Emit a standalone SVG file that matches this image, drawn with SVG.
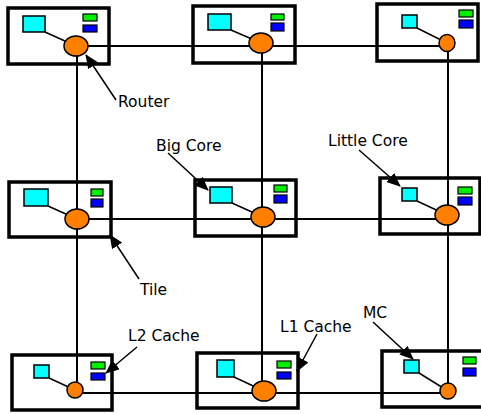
<svg xmlns="http://www.w3.org/2000/svg" width="481" height="414" viewBox="0 0 481 414">
<defs>
<style>
.box{fill:none;stroke:#000;stroke-width:3.5}
.core{fill:#00ffff;stroke:#000;stroke-width:1.5}
.l1a{fill:#00ee00;stroke:#000;stroke-width:1.2}
.l1b{fill:#0000ff;stroke:#000;stroke-width:1.2}
.rt{fill:#ff8000;stroke:#000;stroke-width:1.5}
.lk{stroke:#000;stroke-width:1.5}
.net{stroke:#000;stroke-width:2;fill:none}
.ann{stroke:#000;stroke-width:1.5;fill:none;marker-end:url(#ah)}
.lbl{font-family:"DejaVu Sans",Verdana,sans-serif;font-size:15.5px;fill:#000}
</style>
<marker id="ah" markerUnits="userSpaceOnUse" markerWidth="14" markerHeight="12" refX="13" refY="6" orient="auto">
<path d="M0,0 L14,6 L0,12 Z" fill="#000"/>
</marker>
</defs>
<rect width="481" height="414" fill="#fff"/>
<g id="connectors">
<line class="net" x1="76" y1="46" x2="448" y2="46"/>
<line class="net" x1="77" y1="219" x2="447" y2="219"/>
<line class="net" x1="75" y1="393" x2="448" y2="393"/>
<line class="net" x1="77" y1="46" x2="77" y2="390"/>
<line class="net" x1="262" y1="43" x2="262" y2="391"/>
<line class="net" x1="448" y1="43" x2="448" y2="391"/>
</g>
<g id="tile1">
<rect class="box" x="8" y="8" width="101" height="56"/>
<rect class="core" x="23" y="16" width="22" height="16"/>
<rect class="l1a" x="83" y="14" width="14" height="7"/>
<rect class="l1b" x="83" y="25" width="14" height="7"/>
<line class="lk" x1="45" y1="32" x2="76" y2="46"/>
<ellipse class="rt" cx="76" cy="46" rx="12" ry="10"/>
</g>
<g id="tile2">
<rect class="box" x="193" y="6" width="102" height="57"/>
<rect class="core" x="208" y="14" width="23" height="16"/>
<rect class="l1a" x="271" y="14" width="13" height="6"/>
<rect class="l1b" x="271" y="23" width="13" height="8"/>
<line class="lk" x1="231" y1="30" x2="261" y2="43"/>
<ellipse class="rt" cx="261" cy="43" rx="12" ry="10"/>
</g>
<g id="tile3">
<rect class="box" x="377" y="4" width="101" height="57"/>
<rect class="core" x="402" y="15" width="15" height="13"/>
<rect class="l1a" x="459" y="10" width="14" height="7"/>
<rect class="l1b" x="459" y="20" width="14" height="8"/>
<line class="lk" x1="417" y1="28" x2="447" y2="43"/>
<ellipse class="rt" cx="447" cy="43" rx="8" ry="8.5"/>
</g>
<g id="tile4">
<rect class="box" x="9" y="182" width="102" height="55"/>
<rect class="core" x="24" y="189" width="24" height="17"/>
<rect class="l1a" x="91" y="189" width="12" height="7"/>
<rect class="l1b" x="91" y="199" width="12" height="8"/>
<line class="lk" x1="48" y1="206" x2="77" y2="219"/>
<ellipse class="rt" cx="77" cy="219" rx="12" ry="10"/>
</g>
<g id="tile5">
<rect class="box" x="195" y="180" width="101" height="56"/>
<rect class="core" x="210" y="187" width="22" height="16"/>
<rect class="l1a" x="274" y="185" width="13" height="7"/>
<rect class="l1b" x="274" y="195" width="13" height="8"/>
<line class="lk" x1="232" y1="203" x2="263" y2="217"/>
<ellipse class="rt" cx="263" cy="217" rx="12" ry="10"/>
</g>
<g id="tile6">
<rect class="box" x="380" y="178" width="100" height="56"/>
<rect class="core" x="402" y="188" width="15" height="13"/>
<rect class="l1a" x="458" y="187" width="14" height="7"/>
<rect class="l1b" x="458" y="197" width="14" height="8"/>
<line class="lk" x1="417" y1="201" x2="447" y2="215"/>
<ellipse class="rt" cx="447" cy="215" rx="12" ry="10"/>
</g>
<g id="tile7">
<rect class="box" x="12" y="355" width="100" height="55"/>
<rect class="core" x="34" y="365" width="15" height="13"/>
<rect class="l1a" x="91" y="362" width="14" height="7"/>
<rect class="l1b" x="91" y="373" width="14" height="7"/>
<line class="lk" x1="49" y1="378" x2="75" y2="390"/>
<ellipse class="rt" cx="75" cy="390" rx="8" ry="8"/>
</g>
<g id="tile8">
<rect class="box" x="197" y="353" width="101" height="55"/>
<rect class="core" x="217" y="360" width="17" height="17"/>
<rect class="l1a" x="277" y="361" width="14" height="7"/>
<rect class="l1b" x="277" y="372" width="14" height="7"/>
<line class="lk" x1="234" y1="377" x2="264" y2="391"/>
<ellipse class="rt" cx="264" cy="391" rx="12" ry="10"/>
</g>
<g id="tile9">
<rect class="box" x="382" y="351" width="102" height="56"/>
<rect class="core" x="404" y="360" width="15" height="13"/>
<rect class="l1a" x="463" y="357" width="13" height="7"/>
<rect class="l1b" x="463" y="368" width="13" height="8"/>
<line class="lk" x1="419" y1="373" x2="448" y2="391"/>
<ellipse class="rt" cx="448" cy="391" rx="8" ry="8"/>
</g>
<g id="annotations">
<line class="ann" x1="116" y1="100" x2="86" y2="55"/>
<line class="ann" x1="139" y1="279" x2="110" y2="235"/>
<line class="ann" x1="168" y1="153" x2="208" y2="190"/>
<line class="ann" x1="359" y1="150" x2="400" y2="186"/>
<line class="ann" x1="137" y1="347" x2="106" y2="373"/>
<line class="ann" x1="317" y1="334" x2="297" y2="371"/>
<line class="ann" x1="373" y1="322" x2="413" y2="359"/>
</g>
<g id="labels">
<text class="lbl" x="118" y="107">Router</text>
<text class="lbl" x="156" y="151">Big Core</text>
<text class="lbl" x="328" y="146">Little Core</text>
<text class="lbl" x="140" y="295">Tile</text>
<text class="lbl" x="128" y="341">L2 Cache</text>
<text class="lbl" x="280" y="332">L1 Cache</text>
<text class="lbl" x="363" y="318">MC</text>
</g>
</svg>
